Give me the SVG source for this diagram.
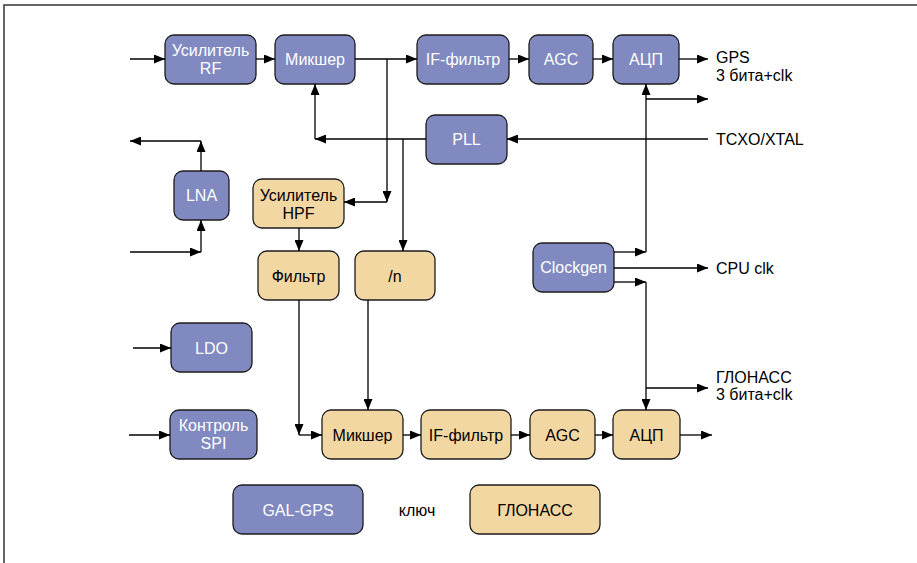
<svg xmlns="http://www.w3.org/2000/svg" width="917" height="563" viewBox="0 0 917 563">
<defs>
<marker id="ah" markerUnits="userSpaceOnUse" markerWidth="11" markerHeight="9" refX="11" refY="4.5" orient="auto"><path d="M0,0 L11,4.5 L0,9 z" fill="#000"/></marker>
<style>
.b{fill:#8089c0;stroke:#1c1c1c;stroke-width:1.3}
.t{fill:#f3d7a3;stroke:#1c1c1c;stroke-width:1.3}
text{font-family:"Liberation Sans",Arial,sans-serif;font-size:16px}
.w{fill:#fff;text-anchor:middle}
.k{fill:#000;text-anchor:middle}
.l{fill:#000}
.c path{fill:none;stroke:#000;stroke-width:1.3}
.a{marker-end:url(#ah)}
</style>
</defs>
<rect x="0" y="0" width="917" height="563" fill="#fff"/>
<path d="M4,570 V5 H925" fill="none" stroke="#333" stroke-width="1.5"/>

<g id="usilitel-rf"><rect class="b" x="165" y="35" width="91" height="49" rx="9"/><text class="w" x="210.5" y="56">Усилитель</text><text class="w" x="210.5" y="74">RF</text></g>
<g id="mikser-gps"><rect class="b" x="275" y="35" width="80" height="49" rx="9"/><text class="w" x="315" y="64.5">Микшер</text></g>
<g id="if-gps"><rect class="b" x="417" y="35" width="92" height="49" rx="9"/><text class="w" x="463" y="64.5">IF-фильтр</text></g>
<g id="agc-gps"><rect class="b" x="529" y="35" width="64" height="49" rx="9"/><text class="w" x="561" y="64.5">AGC</text></g>
<g id="adc-gps"><rect class="b" x="613" y="35" width="66" height="49" rx="9"/><text class="w" x="646" y="64.5">АЦП</text></g>
<g id="pll"><rect class="b" x="426" y="115" width="81" height="49" rx="9"/><text class="w" x="466.5" y="145">PLL</text></g>
<g id="lna"><rect class="b" x="174" y="171" width="55" height="49" rx="9"/><text class="w" x="201.5" y="201">LNA</text></g>
<g id="usilitel-hpf"><rect class="t" x="253" y="179" width="91" height="49" rx="9"/><text class="k" x="298.5" y="201">Усилитель</text><text class="k" x="298.5" y="219">HPF</text></g>
<g id="filtr"><rect class="t" x="258" y="251" width="81" height="49" rx="9"/><text class="k" x="298.5" y="281.5">Фильтр</text></g>
<g id="div-n"><rect class="t" x="355" y="251" width="80" height="49" rx="9"/><text class="k" x="395" y="281.5">/n</text></g>
<g id="clockgen"><rect class="b" x="533" y="243" width="81" height="49" rx="9"/><text class="w" x="573.5" y="273">Clockgen</text></g>
<g id="ldo"><rect class="b" x="171" y="323" width="81" height="49" rx="9"/><text class="w" x="211.5" y="353.5">LDO</text></g>
<g id="spi"><rect class="b" x="170" y="410" width="87" height="49" rx="9"/><text class="w" x="213.5" y="431">Контроль</text><text class="w" x="213.5" y="449">SPI</text></g>
<g id="mikser-gl"><rect class="t" x="322" y="410" width="81" height="49" rx="9"/><text class="k" x="362.5" y="440.5">Микшер</text></g>
<g id="if-gl"><rect class="t" x="421" y="410" width="90" height="49" rx="9"/><text class="k" x="466" y="440.5">IF-фильтр</text></g>
<g id="agc-gl"><rect class="t" x="530" y="410" width="65" height="49" rx="9"/><text class="k" x="562.5" y="440.5">AGC</text></g>
<g id="adc-gl"><rect class="t" x="613" y="410" width="67" height="49" rx="9"/><text class="k" x="646.5" y="440.5">АЦП</text></g>
<g id="key-gps"><rect class="b" x="233" y="485" width="130" height="49" rx="9"/><text class="w" x="298" y="515.5">GAL-GPS</text></g>
<g id="key-gl"><rect class="t" x="470" y="485" width="130" height="49" rx="9"/><text class="k" x="535" y="515.5">ГЛОНАСС</text></g>

<g id="labels">
<text class="l" x="716" y="63">GPS</text>
<text class="l" x="716" y="81">3 бита+clk</text>
<text class="l" x="716" y="145">TCXO/XTAL</text>
<text class="l" x="716" y="273.5">CPU clk</text>
<text class="l" x="716" y="383">ГЛОНАСС</text>
<text class="l" x="716" y="400">3 бита+clk</text>
<text class="k" x="417" y="515.5">ключ</text>
</g>

<g id="connectors" class="c">
<path class="a" d="M130,59 H165"/>
<path class="a" d="M256,59 H275"/>
<path class="a" d="M355,59 H417"/>
<path class="a" d="M509,59 H529"/>
<path class="a" d="M593,59 H613"/>
<path class="a" d="M679,59 H708"/>
<path class="a" d="M387,59 V202"/>
<path class="a" d="M387,202 H344"/>
<path class="a" d="M708,139 H507"/>
<path class="a" d="M426,139 H315"/>
<path class="a" d="M315,139 V84"/>
<path class="a" d="M403,139 V251"/>
<path class="a" d="M646,252 V84"/>
<path class="a" d="M646,99 H708"/>
<path class="a" d="M614,252 H646"/>
<path class="a" d="M614,268 H708"/>
<path class="a" d="M614,282 H646"/>
<path class="a" d="M646,282 V410"/>
<path class="a" d="M646,388 H708"/>
<path class="a" d="M201,171 V141"/>
<path class="a" d="M201,141 H130"/>
<path class="a" d="M130,252 H201"/>
<path class="a" d="M201,252 V220"/>
<path class="a" d="M299,228 V251"/>
<path class="a" d="M299,300 V435"/>
<path class="a" d="M299,435 H322"/>
<path class="a" d="M368,300 V410"/>
<path class="a" d="M133,348 H171"/>
<path class="a" d="M129,435 H170"/>
<path class="a" d="M403,435 H421"/>
<path class="a" d="M511,435 H530"/>
<path class="a" d="M595,435 H613"/>
<path class="a" d="M680,435 H712"/>
</g>
</svg>
